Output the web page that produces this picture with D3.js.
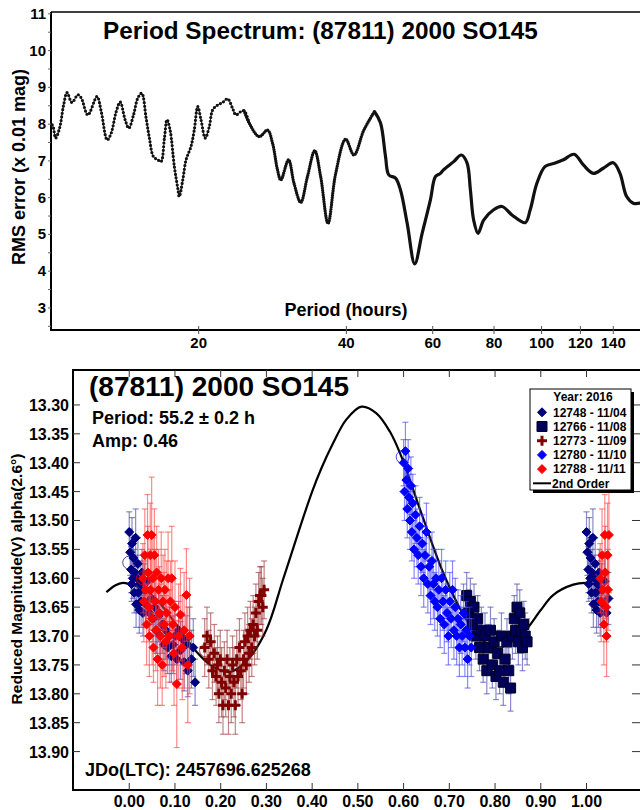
<!DOCTYPE html>
<html><head><meta charset="utf-8">
<script src="https://cdn.jsdelivr.net/npm/d3@7"></script>
<style>body{margin:0;background:#fff}svg{display:block}text{font-family:"Liberation Sans",Arial,sans-serif;font-weight:bold}</style>
</head><body>
<svg id="c" width="640" height="810"></svg>
<script>
// ---------- Period spectrum (top) ----------
const specPeriod = [10.06,10.12,10.22,10.41,10.61,10.78,11.03,11.35,11.53,11.89,12.41,12.66,13.02,13.26,13.58,13.84,14.16,14.41,14.73,15.03,15.31,15.63,15.87,16.17,16.51,16.76,17.03,17.24,17.49,17.84,18.13,18.26,18.56,18.85,19.29,19.59,19.91,20.22,20.63,21.02,21.36,21.86,22.38,22.91,23.45,23.82,24.38,24.76,25.35,26.57,27.63,28.29,28.95,29.41,30.49,31.29,32.29,33.32,34.48,35.46,36.70,38.05,39.87,41.45,43.43,45.66,46.96,48.07,48.82,50.38,51.57,53.22,55.14,57.09,59.35,60.76,62.20,63.17,66.21,68.64,70.50,71.60,72.71,74.23,76.20,79.85,83.05,87.03,92.62,94.81,97.83,101.71,106.58,110.80,116.49,121.68,127.51,133.62,140.02,144.49,149.10,153.79,158.68];
const specRMS = [7.98,7.89,7.62,7.89,8.52,8.86,8.59,8.80,8.71,8.25,8.75,8.34,7.57,7.75,8.34,8.60,8.12,7.89,8.25,8.71,8.84,8.16,7.62,7.12,7.03,6.98,7.62,8.12,7.84,6.85,6.26,6.03,6.48,7.03,7.39,7.84,8.48,8.12,7.62,7.93,8.39,8.52,8.59,8.69,8.43,8.25,8.34,8.36,8.03,7.66,7.84,7.48,6.76,6.48,7.03,6.39,5.87,6.57,7.28,6.57,5.30,6.66,7.59,7.16,7.84,8.34,8.03,7.12,6.62,6.53,6.21,5.30,4.20,5.03,5.94,6.57,6.66,6.76,6.98,7.16,6.94,6.21,5.39,5.03,5.39,5.67,5.76,5.53,5.32,5.67,6.39,6.85,6.94,7.03,7.18,6.89,6.66,6.80,6.95,6.66,6.03,5.85,5.85];
const specYTicks = [3,4,5,6,7,8,9,10,11];
const specXTicks = [20,40,60,80,100,120,140];

// ---------- Lightcurve (bottom) ----------
const phaseTicks = [0,0.1,0.2,0.3,0.4,0.5,0.6,0.7,0.8,0.9,1.0];
const magTicks = [13.30,13.35,13.40,13.45,13.50,13.55,13.60,13.65,13.70,13.75,13.80,13.85,13.90];
// 2nd order Fourier fit: phase / mag
const fitPhase = [-0.05,-0.03,-0.014,0.0,0.03,0.06,0.10,0.147,0.183,0.22,0.26,0.30,0.336,0.37,0.40,0.42,0.446,0.475,0.508,0.54,0.57,0.595,0.64,0.69,0.74,0.78,0.81,0.84,0.868,0.90,0.927,0.971,1.0,1.02,1.05];
const fitMag   = [13.624,13.612,13.608,13.610,13.618,13.637,13.677,13.727,13.753,13.762,13.740,13.689,13.603,13.52,13.45,13.41,13.366,13.325,13.303,13.314,13.346,13.389,13.49,13.597,13.675,13.712,13.720,13.708,13.689,13.655,13.629,13.611,13.608,13.611,13.625];

// session data: [phase, mag, error]
const s12748 = [[0.000,13.520,0.035],[0.002,13.555,0.04],[0.004,13.585,0.04],[0.005,13.610,0.03],[0.006,13.540,0.045],[0.008,13.600,0.035],[0.009,13.565,0.04],[0.011,13.625,0.035],[0.012,13.590,0.04],[0.014,13.530,0.05],[0.015,13.645,0.04],[0.017,13.600,0.04],[0.019,13.575,0.045],[0.020,13.625,0.035],[0.022,13.655,0.04],[0.024,13.610,0.04],[0.026,13.640,0.045],[0.028,13.590,0.04],[0.030,13.660,0.04],[0.033,13.620,0.045],[0.036,13.645,0.04],[0.040,13.605,0.05],[0.044,13.660,0.04],[0.048,13.635,0.045],[0.052,13.670,0.04],[0.056,13.650,0.05],[0.060,13.690,0.04],[0.064,13.665,0.045],[0.068,13.700,0.04],[0.072,13.680,0.05],[0.076,13.715,0.045],[0.080,13.690,0.05],[0.084,13.720,0.045],[0.088,13.700,0.05],[0.092,13.735,0.045],[0.096,13.715,0.05],[0.100,13.700,0.05],[0.104,13.740,0.045],[0.108,13.690,0.05],[0.112,13.725,0.05],[0.116,13.705,0.045],[0.120,13.745,0.05],[0.124,13.715,0.05],[0.128,13.760,0.045],[0.132,13.700,0.05],[0.136,13.740,0.05],[0.140,13.720,0.05],[0.144,13.780,0.04]];
const s12766 = [[0.738,13.630,0.04],[0.742,13.660,0.04],[0.746,13.640,0.04],[0.750,13.680,0.04],[0.754,13.650,0.04],[0.758,13.700,0.04],[0.762,13.670,0.04],[0.766,13.720,0.04],[0.770,13.690,0.04],[0.774,13.740,0.04],[0.778,13.700,0.04],[0.782,13.760,0.04],[0.786,13.720,0.04],[0.790,13.690,0.04],[0.794,13.750,0.04],[0.798,13.710,0.04],[0.802,13.770,0.04],[0.806,13.730,0.04],[0.810,13.760,0.04],[0.814,13.700,0.04],[0.818,13.780,0.04],[0.822,13.740,0.04],[0.826,13.710,0.04],[0.830,13.760,0.04],[0.834,13.790,0.04],[0.838,13.700,0.04],[0.842,13.670,0.04],[0.845,13.690,0.04],[0.848,13.650,0.04],[0.851,13.710,0.04],[0.854,13.660,0.04],[0.857,13.690,0.04],[0.860,13.720,0.04],[0.863,13.680,0.04],[0.866,13.700,0.04],[0.870,13.710,0.04]];
const s12773 = [[0.165,13.720,0.05],[0.170,13.700,0.05],[0.174,13.740,0.05],[0.178,13.710,0.05],[0.182,13.760,0.05],[0.186,13.730,0.05],[0.190,13.770,0.05],[0.193,13.750,0.05],[0.196,13.800,0.05],[0.199,13.740,0.05],[0.202,13.780,0.06],[0.205,13.820,0.05],[0.208,13.760,0.05],[0.211,13.790,0.05],[0.214,13.740,0.05],[0.217,13.820,0.05],[0.220,13.770,0.05],[0.223,13.800,0.05],[0.226,13.750,0.05],[0.229,13.780,0.06],[0.232,13.820,0.05],[0.235,13.740,0.05],[0.238,13.770,0.05],[0.241,13.720,0.05],[0.244,13.760,0.05],[0.247,13.800,0.05],[0.250,13.740,0.05],[0.253,13.710,0.05],[0.256,13.750,0.05],[0.259,13.700,0.05],[0.262,13.730,0.05],[0.265,13.690,0.05],[0.268,13.720,0.05],[0.271,13.680,0.05],[0.274,13.700,0.05],[0.277,13.660,0.05],[0.280,13.690,0.05],[0.283,13.640,0.05],[0.286,13.630,0.05],[0.289,13.630,0.05],[0.292,13.650,0.05],[0.295,13.620,0.05]];
const s12780 = [[0.600,13.400,0.04],[0.602,13.450,0.05],[0.604,13.380,0.05],[0.606,13.430,0.05],[0.608,13.480,0.05],[0.610,13.410,0.05],[0.612,13.460,0.04],[0.614,13.500,0.05],[0.616,13.440,0.05],[0.618,13.520,0.05],[0.620,13.470,0.05],[0.623,13.550,0.05],[0.626,13.490,0.05],[0.629,13.530,0.05],[0.632,13.560,0.05],[0.635,13.510,0.05],[0.638,13.580,0.05],[0.641,13.540,0.05],[0.644,13.600,0.05],[0.647,13.560,0.05],[0.650,13.520,0.05],[0.653,13.610,0.05],[0.656,13.580,0.05],[0.659,13.630,0.05],[0.662,13.570,0.05],[0.665,13.610,0.06],[0.668,13.640,0.05],[0.671,13.600,0.05],[0.674,13.650,0.05],[0.677,13.620,0.05],[0.680,13.670,0.05],[0.683,13.600,0.05],[0.686,13.640,0.05],[0.689,13.680,0.05],[0.692,13.620,0.05],[0.695,13.660,0.05],[0.698,13.700,0.05],[0.701,13.640,0.05],[0.704,13.670,0.05],[0.707,13.620,0.05],[0.710,13.690,0.05],[0.713,13.650,0.05],[0.716,13.700,0.05],[0.719,13.670,0.05],[0.722,13.720,0.05],[0.725,13.680,0.05],[0.728,13.700,0.05],[0.731,13.660,0.05],[0.734,13.720,0.05],[0.737,13.690,0.05],[0.740,13.740,0.05],[0.744,13.700,0.05],[0.748,13.720,0.05]];
const s12788 = [[0.030,13.600,0.06],[0.032,13.640,0.07],[0.034,13.560,0.08],[0.036,13.620,0.06],[0.038,13.680,0.07],[0.040,13.525,0.07],[0.041,13.590,0.08],[0.043,13.650,0.06],[0.044,13.700,0.07],[0.046,13.560,0.09],[0.047,13.620,0.07],[0.049,13.525,0.1],[0.050,13.670,0.08],[0.052,13.600,0.07],[0.053,13.720,0.06],[0.055,13.560,0.08],[0.057,13.640,0.09],[0.058,13.690,0.07],[0.060,13.590,0.08],[0.062,13.740,0.08],[0.064,13.620,0.07],[0.066,13.660,0.08],[0.068,13.700,0.09],[0.070,13.600,0.08],[0.072,13.750,0.07],[0.074,13.640,0.08],[0.076,13.680,0.09],[0.078,13.620,0.07],[0.080,13.710,0.08],[0.082,13.660,0.09],[0.085,13.600,0.08],[0.088,13.700,0.08],[0.090,13.640,0.07],[0.093,13.600,0.09],[0.095,13.680,0.08],[0.098,13.730,0.09],[0.100,13.650,0.08],[0.104,13.783,0.11],[0.108,13.700,0.09],[0.112,13.663,0.08],[0.116,13.720,0.09],[0.120,13.690,0.10],[0.125,13.629,0.08],[0.128,13.750,0.10],[0.132,13.700,0.10]];
// large open circles marking the first point of some sessions: [session index, phase, mag]
const firstPts = [[0,0.000,13.573],[4,0.030,13.600],[2,0.168,13.725],[3,0.598,13.390]];

const sessions = [
  {name:"12748 - 11/04", data:s12748, sym:"diamond", fill:"#000080", stroke:"#000080", err:"#3c3ca8"},
  {name:"12766 - 11/08", data:s12766, sym:"square",  fill:"#00005a", stroke:"#000020", err:"#3a3ab0"},
  {name:"12773 - 11/09", data:s12773, sym:"plus",    fill:"#800000", stroke:"#800000", err:"#9a3030"},
  {name:"12780 - 11/10", data:s12780, sym:"diamond", fill:"#0000ff", stroke:"#0000ff", err:"#3c3cff"},
  {name:"12788 - 11/11", data:s12788, sym:"diamond", fill:"#ff0000", stroke:"#ff0000", err:"#ff3c3c"}
];

(function(){
const svg = d3.select("#c");

// ===== TOP CHART =====
const tx = d3.scaleLog().domain([10,160]).range([51,641.7]);
const ty = d3.scaleLinear().domain([2.4,11.05]).range([330,12]);
const topG = svg.append("g");
topG.append("line").attr("x1",51).attr("x2",640).attr("y1",12).attr("y2",12).attr("stroke","#000").attr("stroke-width",1.5);
topG.append("line").attr("x1",51).attr("x2",640).attr("y1",330).attr("y2",330).attr("stroke","#000").attr("stroke-width",2);
topG.append("line").attr("x1",51).attr("x2",51).attr("y1",12).attr("y2",331).attr("stroke","#000").attr("stroke-width",2);
const minorY = d3.range(2.5,11.01,0.5);
topG.selectAll(".ym").data(minorY).join("line").attr("x1",48).attr("x2",51).attr("y1",d=>ty(d)).attr("y2",d=>ty(d)).attr("stroke","#666").attr("stroke-width",1);
topG.selectAll(".yl").data(specYTicks).join("text").attr("x",46).attr("y",d=>ty(d)+5).attr("text-anchor","end").attr("font-size",15).text(d=>d);
topG.selectAll(".xt").data(specXTicks).join("line").attr("x1",d=>tx(d)).attr("x2",d=>tx(d)).attr("y1",326).attr("y2",334).attr("stroke","#555").attr("stroke-width",1);
topG.selectAll(".xl").data(specXTicks).join("text").attr("x",d=>tx(d)).attr("y",348).attr("text-anchor","middle").attr("font-size",15).text(d=>d);
topG.append("text").attr("x",103).attr("y",39).attr("font-size",24.3).text("Period Spectrum: (87811) 2000 SO145");
topG.append("text").attr("x",346).attr("y",316).attr("text-anchor","middle").attr("font-size",18).text("Period (hours)");
topG.append("text").attr("transform","translate(25,167) rotate(-90)").attr("text-anchor","middle").attr("font-size",18).text("RMS error (x 0.01 mag)");

const spec = specPeriod.map((p,i)=>({p, v:specRMS[i]}));
const sline = d3.line().x(d=>tx(d.p)).y(d=>ty(d.v)).curve(d3.curveCatmullRom.alpha(0.5));
svg.append("clipPath").attr("id","tclip").append("rect").attr("x",51).attr("y",12).attr("width",600).attr("height",318);
const tg = topG.append("g").attr("clip-path","url(#tclip)");
tg.append("path").attr("d",sline(spec)).attr("fill","none").attr("stroke","#333").attr("stroke-width",1);
tg.append("path").attr("d",sline(spec.filter(d=>d.p<=25.4))).attr("fill","none").attr("stroke","#111").attr("stroke-width",3.2).attr("stroke-linecap","round").attr("stroke-dasharray","0 3.6");
tg.append("path").attr("d",sline(spec.filter(d=>d.p>=24.7 && d.p<=46))).attr("fill","none").attr("stroke","#111").attr("stroke-width",3.3).attr("stroke-linecap","round").attr("stroke-dasharray","0 2.3");
tg.append("path").attr("d",sline(spec.filter(d=>d.p>=45.6))).attr("fill","none").attr("stroke","#111").attr("stroke-width",3.2).attr("stroke-linecap","round");

// ===== BOTTOM CHART =====
const bx = d3.scaleLinear().domain([-0.123,1.117]).range([73,640]);
const by = d3.scaleLinear().domain([13.2395,13.9665]).range([370,790]);
const bot = svg.append("g");
bot.append("rect").attr("x",73).attr("y",370).attr("width",570).attr("height",420).attr("fill","none").attr("stroke","#000").attr("stroke-width",2);
bot.selectAll(".byt").data(magTicks).join("line").attr("x1",73).attr("x2",80).attr("y1",d=>by(d)).attr("y2",d=>by(d)).attr("stroke","#333");
bot.selectAll(".byr").data(magTicks).join("line").attr("x1",632).attr("x2",640).attr("y1",d=>by(d)).attr("y2",d=>by(d)).attr("stroke","#333");
bot.selectAll(".byl").data(magTicks).join("text").attr("x",69).attr("y",d=>by(d)+6).attr("text-anchor","end").attr("font-size",16).text(d=>d.toFixed(2));
bot.selectAll(".bxt").data(phaseTicks).join("line").attr("x1",d=>bx(d)).attr("x2",d=>bx(d)).attr("y1",783).attr("y2",790).attr("stroke","#333");
bot.selectAll(".bxt2").data(phaseTicks).join("line").attr("x1",d=>bx(d)).attr("x2",d=>bx(d)).attr("y1",370).attr("y2",377).attr("stroke","#333");
bot.selectAll(".bxl").data(phaseTicks).join("text").attr("x",d=>bx(d)).attr("y",807).attr("text-anchor","middle").attr("font-size",16).text(d=>d.toFixed(2));
bot.append("text").attr("transform","translate(22,579) rotate(-90)").attr("text-anchor","middle").attr("font-size",15.5).text("Reduced Magnitude(V) alpha(2.6°)");

svg.append("clipPath").attr("id","bclip").append("rect").attr("x",73).attr("y",370).attr("width",570).attr("height",420);
const bg = bot.append("g").attr("clip-path","url(#bclip)");
const fit = fitPhase.map((p,i)=>({p, m:fitMag[i]}));
bg.append("path").attr("d",d3.line().x(d=>bx(d.p)).y(d=>by(d.m)).curve(d3.curveCatmullRom)(fit)).attr("fill","none").attr("stroke","#000").attr("stroke-width",2.2);

function symPath(sym){
  if(sym==="diamond") return "M0,-4.5L4.5,0L0,4.5L-4.5,0Z";
  if(sym==="square") return "M-5,-5H5V5H-5Z";
  return "M-5,0H5M0,-5V5";
}
sessions.forEach(s=>{
  const pts = s.data.map(d=>({p:d[0],m:d[1],e:d[2]})).concat(s.data.filter(d=>d[0]<0.05).map(d=>({p:d[0]+1,m:d[1],e:d[2]})));
  const g = bg.append("g");
  const eg = g.append("g").attr("stroke",s.err).attr("stroke-opacity",0.6).attr("stroke-width",1.2);
  eg.selectAll("line.v").data(pts).join("line").attr("class","v").attr("x1",d=>bx(d.p)).attr("x2",d=>bx(d.p)).attr("y1",d=>by(d.m-d.e)).attr("y2",d=>by(d.m+d.e));
  eg.selectAll("line.t").data(pts).join("line").attr("class","t").attr("x1",d=>bx(d.p)-3).attr("x2",d=>bx(d.p)+3).attr("y1",d=>by(d.m-d.e)).attr("y2",d=>by(d.m-d.e));
  eg.selectAll("line.b").data(pts).join("line").attr("class","b").attr("x1",d=>bx(d.p)-3).attr("x2",d=>bx(d.p)+3).attr("y1",d=>by(d.m+d.e)).attr("y2",d=>by(d.m+d.e));
  g.selectAll("path.s").data(pts).join("path").attr("class","s").attr("transform",d=>`translate(${bx(d.p)},${by(d.m)})`).attr("d",symPath(s.sym))
    .attr("fill",s.sym==="plus"?"none":s.fill).attr("stroke",s.stroke).attr("stroke-width",s.sym==="plus"?3:1);
});
bg.selectAll("circle.first").data(firstPts).join("circle").attr("class","first").attr("cx",d=>bx(d[1])).attr("cy",d=>by(d[2])).attr("r",6.5)
  .attr("fill","none").attr("stroke",d=>sessions[d[0]].stroke).attr("stroke-opacity",0.7).attr("stroke-width",1);

bot.append("text").attr("x",89).attr("y",396).attr("font-size",28).text("(87811) 2000 SO145");
bot.append("text").attr("x",92).attr("y",424).attr("font-size",18).text("Period: 55.2 ± 0.2 h");
bot.append("text").attr("x",92).attr("y",447).attr("font-size",18).text("Amp: 0.46");
bot.append("text").attr("x",85).attr("y",776).attr("font-size",18).text("JDo(LTC): 2457696.625268");

const lg = bot.append("g");
lg.append("rect").attr("x",533).attr("y",392).attr("width",101).attr("height",101).attr("fill","#000");
lg.append("rect").attr("x",530).attr("y",389).attr("width",101).attr("height",101).attr("fill","#fff").attr("stroke","#000").attr("stroke-width",1);
lg.append("text").attr("x",583).attr("y",401).attr("text-anchor","middle").attr("font-size",12).text("Year: 2016");
sessions.forEach((s,i)=>{
  const yy = 412.3 + i*14.2;
  lg.append("path").attr("transform",`translate(542,${yy})`).attr("d",symPath(s.sym)).attr("fill",s.sym==="plus"?"none":s.fill).attr("stroke",s.stroke).attr("stroke-width",s.sym==="plus"?3:1);
  lg.append("text").attr("x",553).attr("y",yy+4.3).attr("font-size",12).text(s.name);
});
lg.append("line").attr("x1",533).attr("x2",551).attr("y1",483.3).attr("y2",483.3).attr("stroke","#000").attr("stroke-width",2);
lg.append("text").attr("x",552).attr("y",487.6).attr("font-size",12).text("2nd Order");
})();
</script>
</body></html>
